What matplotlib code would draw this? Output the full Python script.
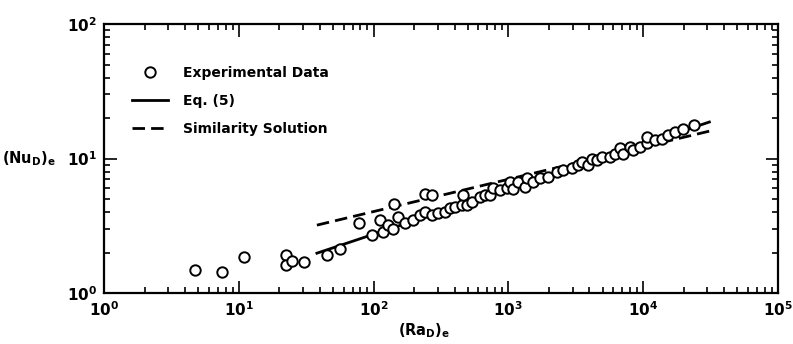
import numpy as np
import matplotlib
matplotlib.use("Agg")
import matplotlib.pyplot as plt
from matplotlib.ticker import LogLocator, NullFormatter

ra_exp = [4.7, 7.5, 10.9, 22.4, 22.4, 24.9, 30.5, 44.9, 56.3, 78, 98, 111, 117,
          128, 140, 142, 152, 171, 197, 221, 241, 241, 270, 273, 302, 339, 369,
          402, 451, 463, 490, 534, 615, 670, 731, 773, 866, 971, 1028, 1087,
          1186, 1327, 1367, 1531, 1715, 1982, 2280, 2555, 2950, 3305, 3500,
          3920, 4150, 4520, 4920, 5670, 6180, 6730, 7120, 7990, 8450, 9460,
          10600, 10600, 12200, 13700, 15400, 17200, 19900, 23800]
nu_exp = [1.49, 1.43, 1.84, 1.91, 1.61, 1.74, 1.70, 1.91, 2.11, 3.33, 2.69, 3.51,
          2.84, 3.19, 2.98, 4.61, 3.67, 3.30, 3.49, 3.80, 5.45, 4.02, 3.80, 5.40,
          3.91, 4.02, 4.26, 4.38, 4.51, 5.35, 4.51, 4.77, 5.20, 5.35, 5.35, 6.0,
          5.83, 6.0, 6.72, 5.9, 6.72, 6.17, 7.12, 6.72, 7.12, 7.32, 7.98, 8.22,
          8.45, 8.95, 9.47, 8.95, 10.0, 9.75, 10.3, 10.3, 10.9, 11.9, 10.9, 12.2,
          11.6, 12.2, 13.0, 14.5, 13.7, 14.1, 14.9, 15.8, 16.5, 17.9]

# line end points
ra_line = [38, 31000]
nu_eq5 = [1.98, 18.7]
nu_sim = [3.2, 16.0]

plt.rcParams["font.family"] = "DejaVu Sans"
plt.rcParams["font.weight"] = "bold"
plt.rcParams["mathtext.default"] = "regular"

fig = plt.figure(figsize=(7.93, 3.44), dpi=100)
ax = fig.add_axes([0.1311, 0.148, 0.8499, 0.782])

ax.plot(ra_exp, nu_exp, "o", mfc="white", mec="black", ms=7.5, mew=1.4,
        linestyle="none", label="Experimental Data", zorder=3)
ax.plot(ra_line, nu_eq5, "k-", lw=2.0, label="Eq. (5)", zorder=2)
ax.plot(ra_line, nu_sim, "k--", lw=2.0, dashes=(4.5, 2.2),
        label="Similarity Solution", zorder=2)

ax.set_xscale("log")
ax.set_yscale("log")
ax.set_xlim(1, 1e5)
ax.set_ylim(1, 100)

for a in (ax.xaxis, ax.yaxis):
    a.set_major_locator(LogLocator(base=10, numticks=10))
    a.set_minor_locator(LogLocator(base=10, subs=np.arange(2, 10), numticks=20))
    a.set_minor_formatter(NullFormatter())

ax.tick_params(which="both", direction="in", top=True, right=True,
               labelsize=11, width=1.2)
ax.tick_params(which="major", length=9, pad=5)
ax.tick_params(which="minor", length=4.5)
for s in ax.spines.values():
    s.set_linewidth(1.6)

ax.set_xlabel("$(Ra_D)_e$", fontsize=10.5, fontweight="bold", va="top")
ax.xaxis.set_label_coords(0.475, -0.105)
ax.set_ylabel("$(Nu_D)_e$", fontsize=10.5, fontweight="bold", rotation=0,
              ha="left", va="center")
ax.yaxis.set_label_coords(-0.152, 0.5)

ax.legend(loc="upper left", bbox_to_anchor=(0.033, 0.865), frameon=False,
          fontsize=10, handlelength=2.6, handletextpad=1.1, labelspacing=1.0,
          borderaxespad=0)

fig.savefig("out.png", dpi=100)
